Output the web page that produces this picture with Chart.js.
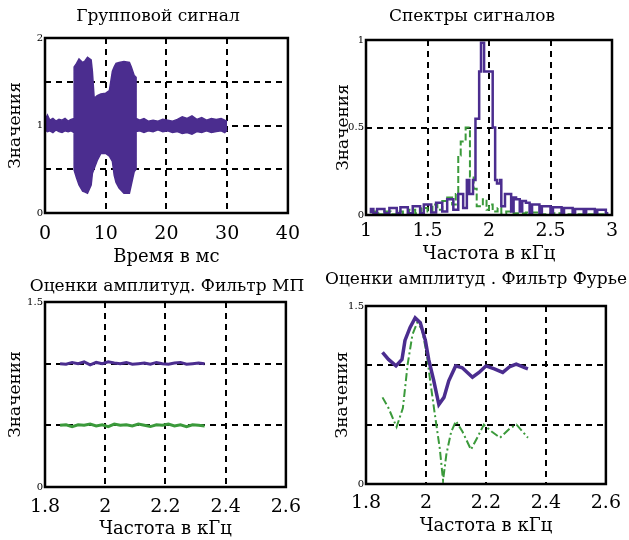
<!DOCTYPE html>
<html lang="ru">
<head>
<meta charset="UTF-8">
<title>Групповой сигнал и спектры</title>
<script src="https://cdn.jsdelivr.net/npm/chart.js"></script>
<style>
  body { margin: 0; background: #fff; }
  .box { position: absolute; }
</style>
</head>
<body>
<div class="box" style="left:0;top:0"><canvas id="sig" width="310" height="270"></canvas></div>
<div class="box" style="left:310px;top:0"><canvas id="spec" width="319" height="270"></canvas></div>
<div class="box" style="left:0;top:270px"><canvas id="mp" width="310" height="270"></canvas></div>
<div class="box" style="left:310px;top:270px"><canvas id="fur" width="319" height="270"></canvas></div>

<script>
// --- Групповой сигнал: огибающая (верх / низ), время в мс
const sigTime  = [0, 0.4, 0.8, 1.3, 1.8, 2.3, 2.8, 3.3, 3.8, 4.3,
                  4.8, 4.8, 5.2, 5.6, 6.2, 6.6, 7.0, 7.6, 7.8, 8.1,
                  8.6, 9.2, 10.0, 10.6, 11.1, 11.4, 11.7, 12.2, 13.0, 13.9,
                  14.2, 14.7, 15.0, 15.0, 15.6, 16.3, 17.0, 17.8, 18.6, 19.4,
                  20.2, 21.0, 21.8, 22.6, 23.4, 24.2, 25.0, 25.8, 26.6, 27.4,
                  28.2, 29.0, 29.6, 30.0];
const sigUpper = [1.06, 1.12, 1.06, 1.08, 1.05, 1.07, 1.06, 1.08, 1.05, 1.07,
                  1.08, 1.67, 1.71, 1.76, 1.72, 1.74, 1.78, 1.75, 1.62, 1.31,
                  1.34, 1.36, 1.37, 1.40, 1.62, 1.67, 1.71, 1.72, 1.73, 1.72,
                  1.67, 1.57, 1.55, 1.08, 1.06, 1.08, 1.05, 1.06, 1.05, 1.07,
                  1.06, 1.05, 1.07, 1.10, 1.08, 1.11, 1.07, 1.09, 1.06, 1.08,
                  1.07, 1.08, 1.06, 1.05];
const sigLower = [0.95, 0.93, 0.94, 0.92, 0.95, 0.93, 0.92, 0.94, 0.93, 0.94,
                  0.92, 0.49, 0.40, 0.32, 0.25, 0.24, 0.225, 0.32, 0.45, 0.51,
                  0.60, 0.68, 0.68, 0.65, 0.59, 0.43, 0.35, 0.285, 0.225, 0.225,
                  0.32, 0.475, 0.50, 0.93, 0.94, 0.92, 0.94, 0.93, 0.95, 0.93,
                  0.94, 0.92, 0.93, 0.91, 0.92, 0.90, 0.93, 0.92, 0.94, 0.92,
                  0.93, 0.94, 0.92, 0.95];

// --- Спектры сигналов (ступенчатые), частота в кГц
const specFreqP = [1.04, 1.06, 1.09, 1.15, 1.19, 1.25, 1.28, 1.34, 1.38, 1.44,
                   1.47, 1.53, 1.57, 1.62, 1.66, 1.71, 1.75, 1.79, 1.82, 1.84,
                   1.87, 1.89, 1.92, 1.935, 1.96, 2.03, 2.05, 2.065, 2.09, 2.10,
                   2.13, 2.15, 2.18, 2.20, 2.22, 2.25, 2.27, 2.30, 2.33, 2.35,
                   2.38, 2.41, 2.43, 2.47, 2.50, 2.52, 2.56, 2.59, 2.61, 2.65,
                   2.68, 2.70, 2.74, 2.77, 2.79, 2.83, 2.86, 2.88, 2.92, 2.95, 2.97];
const specP     = [0.01, 0.035, 0.01, 0.035, 0.01, 0.04, 0.01, 0.045, 0.01, 0.05,
                   0.01, 0.06, 0.015, 0.07, 0.02, 0.09, 0.03, 0.12, 0.04, 0.20,
                   0.12, 0.20, 0.55, 0.82, 0.985, 0.82, 0.50, 0.20, 0.18, 0.20,
                   0.05, 0.12, 0.12, 0.02, 0.10, 0.09, 0.02, 0.08, 0.07, 0.01,
                   0.06, 0.06, 0.01, 0.05, 0.05, 0.01, 0.045, 0.045, 0.01, 0.04,
                   0.04, 0.01, 0.035, 0.035, 0.01, 0.035, 0.035, 0.01, 0.03, 0.03, 0.01];
const specFreqG = [1.04, 1.10, 1.15, 1.20, 1.25, 1.30, 1.35, 1.40, 1.45, 1.50,
                   1.54, 1.58, 1.62, 1.66, 1.70, 1.73, 1.75, 1.77, 1.81, 1.845,
                   1.875, 1.90, 1.92, 1.95, 1.98, 2.00, 2.03, 2.07, 2.10, 2.14,
                   2.20, 2.30, 2.40, 2.50, 2.60, 2.80, 2.97];
const specG     = [0.01, 0.02, 0.005, 0.02, 0.005, 0.02, 0.01, 0.03, 0.01, 0.04,
                   0.02, 0.06, 0.03, 0.08, 0.10, 0.06, 0.12, 0.34, 0.42, 0.50,
                   0.22, 0.15, 0.05, 0.05, 0.09, 0.03, 0.06, 0.02, 0.04, 0.01,
                   0.02, 0.01, 0.015, 0.005, 0.01, 0.005, 0.005];

// --- Оценки амплитуд, фильтр МП
const mpFreq   = [1.85, 1.87, 1.89, 1.91, 1.93, 1.95, 1.97, 1.99, 2.01, 2.03,
                  2.05, 2.07, 2.09, 2.11, 2.13, 2.15, 2.17, 2.19, 2.21, 2.23,
                  2.25, 2.27, 2.29, 2.31, 2.33];
const mpPurple = [1.0, 0.995, 1.01, 1.0, 1.015, 0.99, 1.01, 1.0, 1.015, 1.005,
                  1.0, 1.01, 0.995, 1.0, 1.005, 0.995, 1.01, 1.0, 0.995, 1.005,
                  1.01, 0.995, 1.0, 1.005, 1.0];
const mpGreen  = [0.5, 0.505, 0.49, 0.505, 0.5, 0.51, 0.495, 0.505, 0.49, 0.51,
                  0.5, 0.505, 0.495, 0.51, 0.5, 0.49, 0.505, 0.5, 0.51, 0.495,
                  0.505, 0.49, 0.505, 0.5, 0.495];

// --- Оценки амплитуд, фильтр Фурье
const fuFreqP  = [1.855, 1.875, 1.90, 1.92, 1.93, 1.947, 1.964, 1.981, 1.998, 2.009,
                  2.026, 2.043, 2.06, 2.076, 2.099, 2.121, 2.155, 2.177, 2.20, 2.228,
                  2.256, 2.28, 2.301, 2.329, 2.34];
const fuPurple = [1.11, 1.05, 0.995, 1.05, 1.21, 1.32, 1.40, 1.36, 1.21, 1.05,
                  0.87, 0.67, 0.73, 0.87, 0.995, 0.98, 0.90, 0.94, 0.995, 0.97,
                  0.94, 0.99, 1.01, 0.98, 0.97];
const fuFreqG  = [1.855, 1.875, 1.902, 1.923, 1.939, 1.955, 1.971, 1.987, 2.003, 2.014,
                  2.03, 2.046, 2.057, 2.068, 2.084, 2.10, 2.122, 2.15, 2.171, 2.193,
                  2.22, 2.247, 2.28, 2.302, 2.34];
const fuGreen  = [0.73, 0.64, 0.48, 0.64, 1.01, 1.26, 1.36, 1.30, 1.09, 0.87,
                  0.58, 0.30, 0.03, 0.25, 0.44, 0.53, 0.44, 0.29, 0.39, 0.50,
                  0.44, 0.39, 0.47, 0.50, 0.39];

// tick labels
const sigXTicks = [0, 10, 20, 30, 40];
const specXTicks = [1, 1.5, 2, 2.5, 3];
const ampXTicks = [1.8, 2, 2.2, 2.4, 2.6];

const FONT = "'DejaVu Serif', 'Liberation Serif', serif";
const PURPLE = "#4b2d8f";
const GREEN = "#3b9a3b";

function pts(xs, ys) {
    return xs.map((x, i) => ({ x: x, y: ys[i] }));
}

// no grid line on the frame edges, frame is drawn separately
function inner(min, max) {
    return c => (c.tick && (c.tick.value === min || c.tick.value === max)) ? "rgba(0,0,0,0)" : "#000";
}

function xAxis(min, max, ticks, o) {
    return {
        type: "linear", min: min, max: max,
        afterBuildTicks: s => { s.ticks = ticks.map(v => ({ value: v })); },
        afterFit: s => { s.height = o.h; },
        grid: { color: inner(min, max), lineWidth: 2, drawTicks: false },
        border: { display: false, dash: [6, 5] },
        ticks: { font: { family: FONT, size: 19 }, color: "#000", padding: o.tp,
                 maxRotation: 0, autoSkip: false, callback: v => String(v) },
        title: { display: true, text: o.title, font: { family: FONT, size: 18 }, color: "#000",
                 padding: { top: 0, bottom: o.ttp } }
    };
}

function yAxis(min, max, ticks, labels, o) {
    return {
        type: "linear", min: min, max: max,
        afterBuildTicks: s => { s.ticks = ticks.map(v => ({ value: v })); },
        afterFit: s => { s.width = o.w; },
        grid: { color: inner(min, max), lineWidth: 2, drawTicks: false },
        border: { display: false, dash: [6, 5] },
        ticks: { font: { family: FONT, size: 10 }, color: "#000", padding: 2,
                 callback: v => labels.includes(v) ? String(v) : "" },
        title: { display: true, text: "Значения", font: { family: FONT, size: 17 }, color: "#000",
                 padding: { top: o.ttp, bottom: 0 } }
    };
}

// black frame round the plot area
const framePlugin = {
    id: "frame",
    afterDraw(chart) {
        const { ctx, chartArea: a } = chart;
        ctx.save();
        ctx.strokeStyle = "#000";
        ctx.lineWidth = 2.5;
        ctx.strokeRect(a.left, a.top, a.right - a.left, a.bottom - a.top);
        ctx.restore();
    }
};

// plot heading, placed where the original has it
const captionPlugin = {
    id: "caption",
    afterDraw(chart, args, o) {
        const ctx = chart.ctx;
        ctx.save();
        ctx.font = o.size + "px " + FONT;
        ctx.fillStyle = "#000";
        ctx.textAlign = "center";
        ctx.textBaseline = "middle";
        ctx.fillText(o.text, o.x, o.y);
        ctx.restore();
    }
};

function opts(caption, top, padRight, scales) {
    return {
        responsive: false,
        animation: false,
        layout: { padding: { left: 0, right: padRight, top: top, bottom: 0 } },
        plugins: {
            legend: { display: false },
            tooltip: { enabled: false },
            title: { display: false },
            caption: caption
        },
        elements: { point: { radius: 0 } },
        scales: scales
    };
}

document.addEventListener("DOMContentLoaded", function () {
    // Групповой сигнал
    new Chart(document.getElementById("sig"), {
        type: "line",
        data: {
            datasets: [
                { data: pts(sigTime, sigUpper), borderColor: PURPLE, backgroundColor: PURPLE,
                  borderWidth: 1.5, fill: "+1" },
                { data: pts(sigTime, sigLower), borderColor: PURPLE, borderWidth: 1.5, fill: false }
            ]
        },
        options: opts({ text: "Групповой сигнал", x: 158, y: 17, size: 17 }, 38, 20, {
            x: xAxis(0, 40, sigXTicks, { h: 57, tp: 10, title: "Время в мс", ttp: 2 }),
            y: yAxis(0, 2, [0, 0.5, 1, 1.5, 2], [0, 1, 2], { w: 45, ttp: 5 })
        }),
        plugins: [framePlugin, captionPlugin]
    });

    // Спектры сигналов
    new Chart(document.getElementById("spec"), {
        type: "line",
        data: {
            datasets: [
                { data: pts(specFreqP, specP), borderColor: PURPLE, borderWidth: 2.5, stepped: "after", fill: false },
                { data: pts(specFreqG, specG), borderColor: GREEN, borderWidth: 2, stepped: "after",
                  borderDash: [7, 3], fill: false }
            ]
        },
        options: opts({ text: "Спектры сигналов", x: 162, y: 17, size: 17 }, 40, 17, {
            x: xAxis(1, 3, specXTicks, { h: 55, tp: 5, title: "Частота в кГц", ttp: 5 }),
            y: yAxis(0, 1, [0, 0.5, 1], [0, 0.5, 1], { w: 56, ttp: 23 })
        }),
        plugins: [framePlugin, captionPlugin]
    });

    // Оценки амплитуд. Фильтр МП
    new Chart(document.getElementById("mp"), {
        type: "line",
        data: {
            datasets: [
                { data: pts(mpFreq, mpPurple), borderColor: PURPLE, borderWidth: 3, fill: false },
                { data: pts(mpFreq, mpGreen), borderColor: GREEN, borderWidth: 3, fill: false }
            ]
        },
        options: opts({ text: "Оценки амплитуд. Фильтр МП", x: 167, y: 17, size: 17 }, 32, 20, {
            x: xAxis(1.8, 2.6, ampXTicks, { h: 53, tp: 9, title: "Частота в кГц", ttp: 0 }),
            y: yAxis(0, 1.5, [0, 0.5, 1, 1.5], [0, 1.5], { w: 45, ttp: 5 })
        }),
        plugins: [framePlugin, captionPlugin]
    });

    // Оценки амплитуд . Фильтр Фурье
    new Chart(document.getElementById("fur"), {
        type: "line",
        data: {
            datasets: [
                { data: pts(fuFreqP, fuPurple), borderColor: PURPLE, borderWidth: 3.5, fill: false },
                { data: pts(fuFreqG, fuGreen), borderColor: GREEN, borderWidth: 2,
                  borderDash: [8, 3, 2, 3], fill: false }
            ]
        },
        options: opts({ text: "Оценки амплитуд . Фильтр Фурье", x: 166, y: 10, size: 17 }, 36, 17, {
            x: xAxis(1.8, 2.6, ampXTicks, { h: 56, tp: 8, title: "Частота в кГц", ttp: 3 }),
            y: yAxis(0, 1.5, [0, 0.5, 1, 1.5], [0, 1.5], { w: 56, ttp: 22 })
        }),
        plugins: [framePlugin, captionPlugin]
    });
});
</script>
</body>
</html>
